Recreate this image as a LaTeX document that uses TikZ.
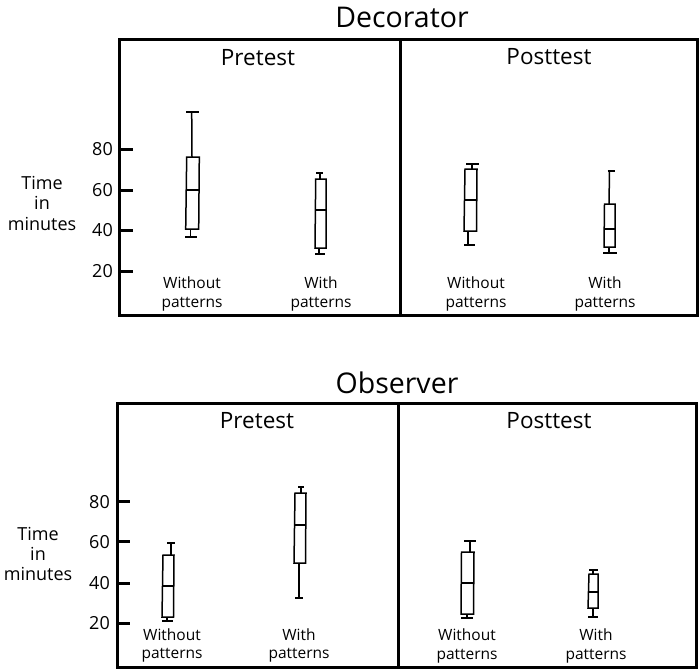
\documentclass[tikz,border=0pt]{standalone}
\usepackage{fontspec}
\setmainfont{Open Sans}
\tikzset{
  panel/.style={line width=3pt},
  tick/.style={line width=3pt},
  bxline/.style={line width=1.5pt, line join=miter},
  title/.style={font=\fontsize{28.5}{30}\selectfont, anchor=base, inner sep=0pt},
  phase/.style={font=\fontsize{22.5}{24}\selectfont, anchor=base, inner sep=0pt},
  ticklab/.style={font=\fontsize{18}{20}\selectfont, anchor=east, inner sep=0pt},
  ylab/.style={font=\fontsize{18}{20}\selectfont, anchor=base, inner sep=0pt},
  catlab/.style={font=\fontsize{15.5}{17}\selectfont, anchor=base, inner sep=0pt},
}
\begin{document}
\begin{tikzpicture}[x=1pt,y=-1pt]
\useasboundingbox (0,0) rectangle (700,670);

% ================= Decorator =================
\node[title] (t1) at (402,27) {Decorator};
\draw[panel] (119,39) rectangle (697,315);
\draw[panel] (400,39) -- (400,315);
\node[phase] (pre1) at (258,65) {Pretest};
\node[phase] (post1) at (549,64) {Posttest};

\foreach \yy/\lab [count=\i] in {149/80,190/60,230/40,271/20}{
  \draw[tick] (119,\yy) -- (133,\yy);
  \node[ticklab] (ta\i) at (113,\yy) {\lab};
}
\node[ylab] (ya1) at (42,189) {Time};
\node[ylab] (ya2) at (42,209) {in};
\node[ylab] (ya3) at (42,230) {minutes};

% Pretest, without patterns
\draw[bxline] (186.7,157) -- (199.3,157) -- (198.7,229) -- (185.7,229) -- cycle;
\draw[bxline] (186.2,190) -- (199,190);
\draw[bxline] (192,157) -- (191.7,112);
\draw[bxline] (186,112) -- (199,112);
\draw[bxline] (190.7,229) -- (190.7,237);
\draw[bxline] (185,237) -- (197,237);
% Pretest, with patterns
\draw[bxline] (315.7,179) -- (326,179) -- (326,248) -- (315,248) -- cycle;
\draw[bxline] (315.4,210) -- (326,210);
\draw[bxline] (320,179) -- (320,173);
\draw[bxline] (316,173) -- (323,173);
\draw[bxline] (319,248) -- (319,254);
\draw[bxline] (315,254) -- (325,254);
% Posttest, without patterns
\draw[bxline] (465,169) -- (477,169) -- (476.5,231) -- (464,231) -- cycle;
\draw[bxline] (464.5,200) -- (476.8,200);
\draw[bxline] (472,169) -- (472,164);
\draw[bxline] (466,164) -- (479,164);
\draw[bxline] (468,231) -- (468,245);
\draw[bxline] (464,245) -- (475,245);
% Posttest, with patterns
\draw[bxline] (604.5,204) -- (615,204) -- (615,247) -- (604,247) -- cycle;
\draw[bxline] (604.2,229) -- (615,229);
\draw[bxline] (609,204) -- (609.5,171);
\draw[bxline] (607.7,171) -- (615,171);
\draw[bxline] (609,247) -- (609,253);
\draw[bxline] (603,253) -- (617,253);

\node[catlab] (c1a) at (192,288) {Without};
\node[catlab] (c1b) at (192,307) {patterns};
\node[catlab] (c2a) at (321,288) {With};
\node[catlab] (c2b) at (321,307) {patterns};
\node[catlab] (c3a) at (476,288) {Without};
\node[catlab] (c3b) at (476,307) {patterns};
\node[catlab] (c4a) at (605,288) {With};
\node[catlab] (c4b) at (605,307) {patterns};

% ================= Observer =================
\node[title] (t2) at (397,393) {Observer};
\draw[panel] (117,403) rectangle (696,667);
\draw[panel] (398,403) -- (398,667);
\node[phase] (pre2) at (257,428) {Pretest};
\node[phase] (post2) at (549,428) {Posttest};

\foreach \yy/\lab [count=\i] in {501.7/80,541.7/60,583.3/40,623.3/20}{
  \draw[tick] (117,\yy) -- (130,\yy);
  \node[ticklab] (tb\i) at (110,\yy) {\lab};
}
\node[ylab] (yb1) at (38,540) {Time};
\node[ylab] (yb2) at (38,560) {in};
\node[ylab] (yb3) at (38,580) {minutes};

% Pretest, without patterns
\draw[bxline] (163,555) -- (174,555) -- (173.5,617) -- (162,617) -- cycle;
\draw[bxline] (162.5,586) -- (173.8,586);
\draw[bxline] (171,555) -- (171,543);
\draw[bxline] (167,543) -- (175,543);
\draw[bxline] (167,617) -- (167,621);
\draw[bxline] (162,621) -- (173,621);
% Pretest, with patterns
\draw[bxline] (295,493) -- (306,493) -- (305.5,563) -- (294,563) -- cycle;
\draw[bxline] (294.5,525) -- (305.8,525);
\draw[bxline] (301,493) -- (301,487);
\draw[bxline] (298,487) -- (304,487);
\draw[bxline] (299,563) -- (299,598);
\draw[bxline] (295,598) -- (303,598);
% Posttest, without patterns
\draw[bxline] (461.5,552) -- (474,552) -- (473.5,614) -- (461,614) -- cycle;
\draw[bxline] (461.2,583) -- (473.8,583);
\draw[bxline] (470,552) -- (470,541);
\draw[bxline] (464,541) -- (476,541);
\draw[bxline] (467,614) -- (467,618);
\draw[bxline] (461,618) -- (473,618);
% Posttest, with patterns
\draw[bxline] (589,574) -- (598,574) -- (598,608) -- (588,608) -- cycle;
\draw[bxline] (588.5,592) -- (598,592);
\draw[bxline] (593,574) -- (593,570);
\draw[bxline] (589,570) -- (598,570);
\draw[bxline] (593,608) -- (593,617);
\draw[bxline] (588,617) -- (598,617);

\node[catlab] (d1a) at (172,640) {Without};
\node[catlab] (d1b) at (172,658) {patterns};
\node[catlab] (d2a) at (299,640) {With};
\node[catlab] (d2b) at (299,658) {patterns};
\node[catlab] (d3a) at (467,640) {Without};
\node[catlab] (d3b) at (467,659) {patterns};
\node[catlab] (d4a) at (596,640) {With};
\node[catlab] (d4b) at (596,659) {patterns};
\end{tikzpicture}
\end{document}
